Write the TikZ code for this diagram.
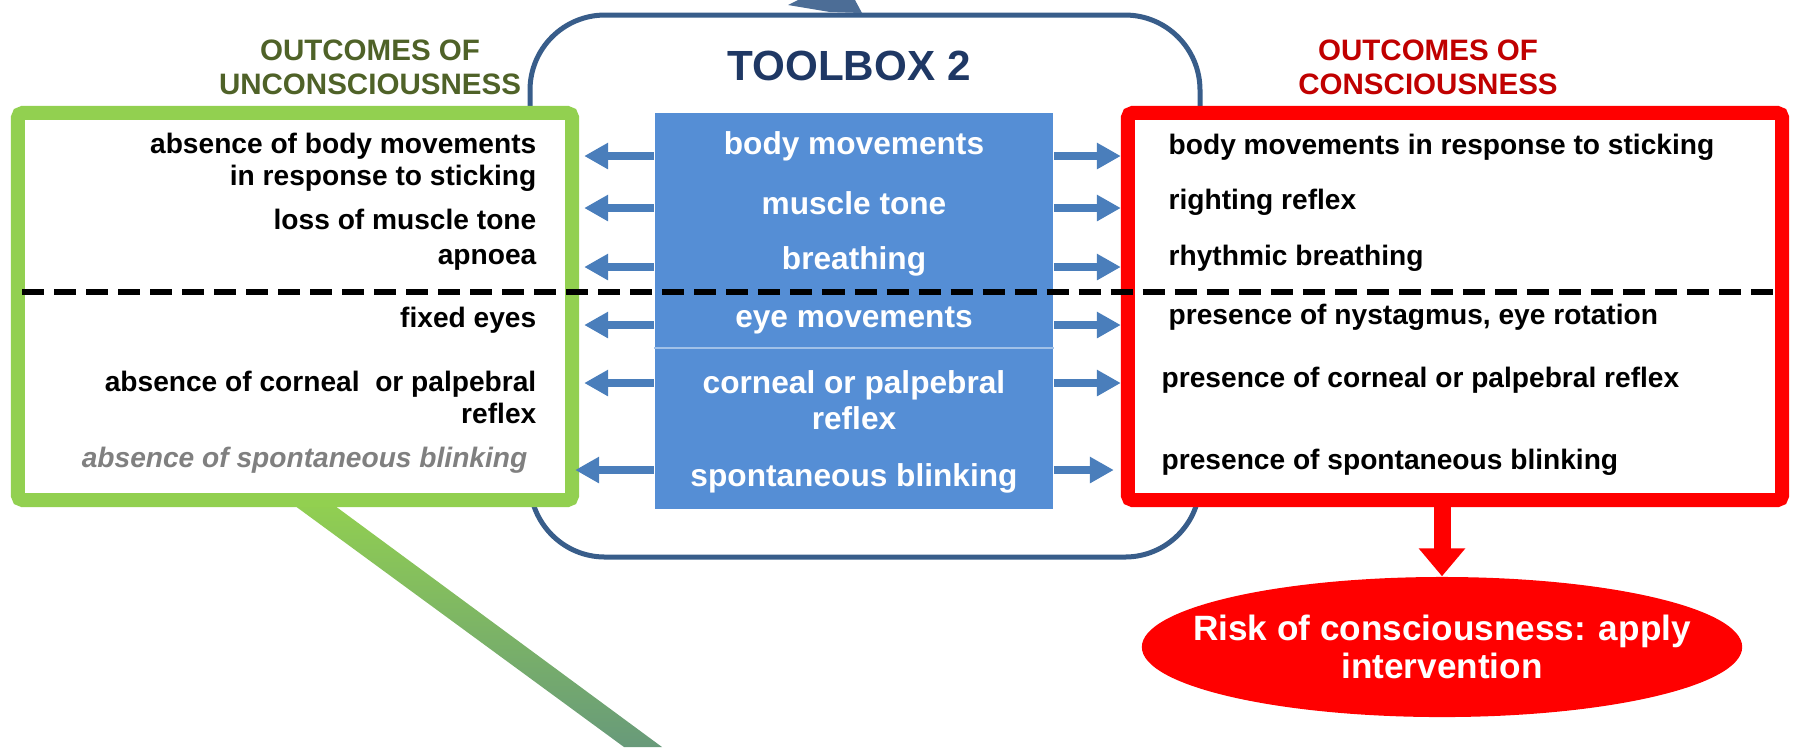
\documentclass[tikz,border=0pt]{standalone}
\usepackage{fontspec}
\setmainfont{Liberation Sans}
\usetikzlibrary{arrows.meta,shapes.geometric}
\definecolor{toolFrame}{RGB}{56,93,138}
\definecolor{toolNavy}{RGB}{31,56,100}
\definecolor{toolFill}{RGB}{85,142,213}
\definecolor{arrowBlue}{RGB}{74,126,187}
\definecolor{unconGreen}{RGB}{146,208,80}
\definecolor{fadeGreen}{RGB}{104,154,122}
\definecolor{oliveText}{RGB}{79,98,40}
\definecolor{darkRed}{RGB}{192,0,0}

\tikzset{
    toollabel/.style={text=white, font=\bfseries\fontsize{9}{10}\selectfont, align=center, inner sep=0pt},
    lefttext/.style={anchor=east, align=right, inner sep=0pt, font=\bfseries\fontsize{8}{9.1}\selectfont},
    righttext/.style={anchor=west, align=left, inner sep=0pt, font=\bfseries\fontsize{8}{9.1}\selectfont},
    header/.style={align=center, inner sep=0pt, font=\bfseries\fontsize{8.4}{9.7}\selectfont},
    toolarrow/.style={draw=arrowBlue, line width=0.08cm, -{Triangle[length=0.24cm,width=0.25cm]}},
}

\begin{document}
\begin{tikzpicture}[x=0.01cm,y=-0.01cm]
        \useasboundingbox (0,0) rectangle (1794,747);

        % toolbox frame
        \draw[line width=0.05cm, draw=toolFrame, rounded corners=0.75cm] (530,15) rectangle (1200,557);
        \fill[toolFrame!90!white] (788,5) -- (798,0) -- (855,0) -- (862,13) -- (830,12) -- cycle;
        \node[text=toolNavy, font=\bfseries\fontsize{12}{14}\selectfont] (title) at (849,66) {TOOLBOX 2};

        % green line leaving the box
        \shade[top color=unconGreen, bottom color=fadeGreen] (287,500) -- (327,500) -- (662,747) -- (624,747) -- cycle;

        % outcomes of unconsciousness
        \node[text=oliveText, header] (hUncon) at (370,67) {OUTCOMES OF\\UNCONSCIOUSNESS};
        \node[draw=unconGreen, fill=white, line width=0.14cm, rounded corners=0.05cm,
              minimum width=5.54cm, minimum height=3.87cm] (uncon) at (295,306.5) {};

        % outcomes of consciousness
        \node[text=darkRed, header] (hCon) at (1428,67) {OUTCOMES OF\\CONSCIOUSNESS};
        \node[draw=red, fill=white, line width=0.14cm, rounded corners=0.05cm,
              minimum width=6.54cm, minimum height=3.87cm] (con) at (1455,306.5) {};

        % signs
        \node[fill=toolFill, minimum width=3.98cm, minimum height=3.96cm, inner sep=0pt] (tools) at (854,311) {};
        \coordinate (sepY) at (0,348);
        \draw[toolFill!55!white, line width=0.4pt] (tools.west |- sepY) -- (tools.east |- sepY);

        \node[toollabel] (tBody) at (854,146) {body movements};
        \node[toollabel] (tTone) at (854,203) {muscle tone};
        \node[toollabel] (tBreath) at (854,261) {breathing};
        \node[toollabel] (tEye) at (854,320) {eye movements};
        \node[toollabel, font=\bfseries\fontsize{9}{10.2}\selectfont] (tCorneal) at (854,400) {corneal or palpebral\\reflex};
        \node[toollabel] (tBlink) at (854,478) {spontaneous blinking};

        % left column
        \node[lefttext] (uBody) at (537,162) {absence of body movements\\in response to sticking};
        \node[lefttext] (uTone) at (537,219) {loss of muscle tone};
        \node[lefttext] (uBreath) at (537,260) {apnoea};
        \node[lefttext] (uEye) at (537,320) {fixed eyes};
        \node[lefttext] (uCorneal) at (537,397) {absence of corneal\ \ or palpebral\\reflex};
        \node[lefttext, text=gray, font=\bfseries\itshape\fontsize{8}{9.1}\selectfont] (uBlink) at (528,460) {absence of spontaneous blinking};

        % right column
        \node[righttext] (cBody) at (1168,147) {body movements in response to sticking};
        \node[righttext] (cTone) at (1168,202) {righting reflex};
        \node[righttext] (cBreath) at (1168,258) {rhythmic breathing};
        \node[righttext] (cEye) at (1168,317) {presence of nystagmus, eye rotation};
        \node[righttext] (cCorneal) at (1161,380) {presence of corneal or palpebral reflex};
        \node[righttext] (cBlink) at (1161,462) {presence of spontaneous blinking};

        % arrows
        \foreach \y [count=\i] in {156,208,267,325,383,470}
            \coordinate (row\i) at (0,\y);
        \foreach \i/\l/\r in {1/0.05/0, 2/0.05/0, 3/0.05/0, 4/0.05/0, 5/0.05/0, 6/-0.04/-0.07} {
            \draw[toolarrow] (tools.west |- row\i) -- ([xshift=\l cm]uncon.east |- row\i);
            \draw[toolarrow] (tools.east |- row\i) -- ([xshift=\r cm]con.west |- row\i);
        }

        % divider
        \coordinate (divL) at (22,292);
        \coordinate (divR) at (1775,292);
        \draw[line width=0.06cm, dash pattern=on 0.22cm off 0.1cm] (divL) -- (divR);

        % risk
        \node[ellipse, fill=red, minimum width=6cm, minimum height=1.4cm, inner sep=0pt] (risk) at (1442,647) {};
        \node[align=center, text=white, font=\bfseries\fontsize{10}{11}\selectfont] (riskText) at (risk.center)
              {Risk of consciousness: apply\\intervention};
        \draw[red, line width=0.17cm, -{Triangle[length=0.28cm,width=0.45cm]}] (risk.north |- con.south) -- (risk.north);

    \end{tikzpicture}
\end{document}
